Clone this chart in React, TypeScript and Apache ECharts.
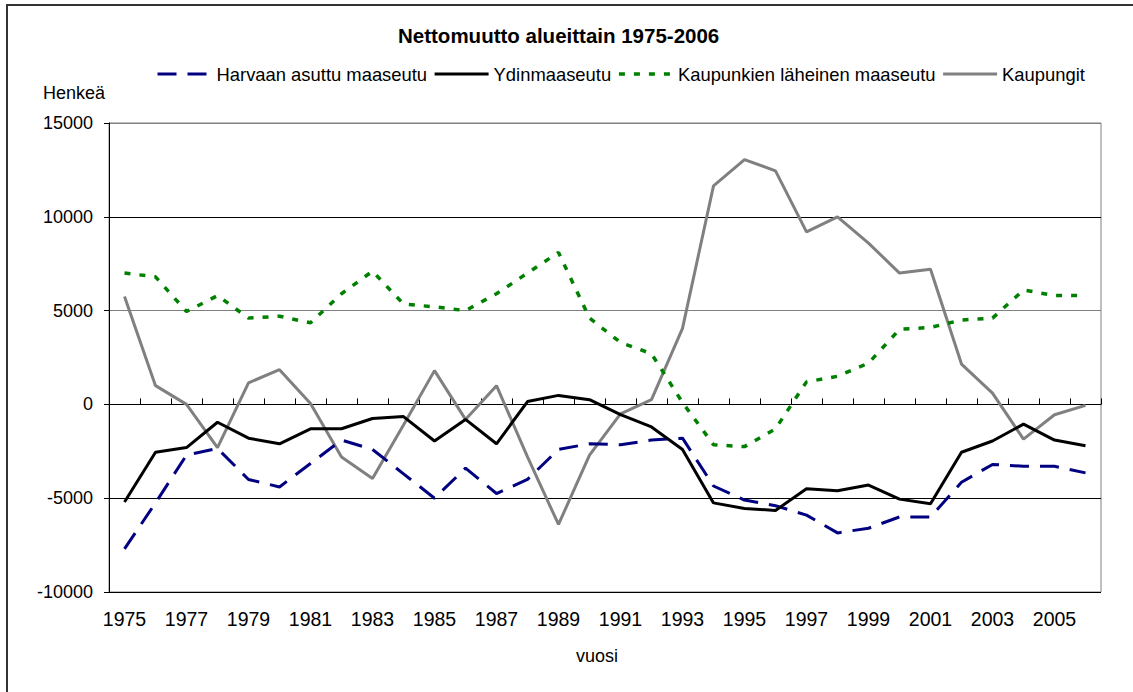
import React, { useEffect, useRef } from "react";
import * as echarts from "echarts";

const years = [
  "1975","1976","1977","1978","1979","1980","1981","1982","1983","1984","1985",
  "1986","1987","1988","1989","1990","1991","1992","1993","1994","1995","1996",
  "1997","1998","1999","2000","2001","2002","2003","2004","2005","2006",
];

const harvaan = [
  -7700, -5250, -2700, -2350, -4000, -4400, -3150, -1900, -2400, -3700, -5000,
  -3400, -4750, -4000, -2400, -2100, -2150, -1900, -1800, -4350, -5100, -5400,
  -5900, -6850, -6600, -6000, -6000, -4150, -3200, -3300, -3300, -3650,
];

const ydin = [
  -5200, -2550, -2300, -950, -1800, -2100, -1300, -1300, -750, -650, -1950,
  -800, -2100, 150, 480, 250, -550, -1200, -2400, -5250, -5550, -5650,
  -4500, -4600, -4300, -5050, -5300, -2550, -1950, -1050, -1900, -2200,
];

const kaupunkienLaheinen = [
  7000, 6800, 4950, 5800, 4600, 4700, 4350, 5900, 7100, 5350, 5200,
  5000, 5900, 7000, 8100, 4600, 3300, 2700, 100, -2150, -2250, -1300,
  1200, 1500, 2200, 4000, 4100, 4500, 4600, 6100, 5800, 5800,
];

const kaupungit = [
  5750, 1000, 0, -2300, 1150, 1850, 50, -2800, -3950, -1100, 1800,
  -800, 1000, -2800, -6400, -2700, -500, 250, 4050, 11650, 13050, 12450,
  9200, 10000, 8600, 7000, 7200, 2150, 600, -1850, -550, -50,
];

const seriesNames = [
  "Harvaan asuttu maaseutu",
  "Ydinmaaseutu",
  "Kaupunkien läheinen maaseutu",
  "Kaupungit",
];

const FONT = "'Liberation Sans', Arial, sans-serif";

const styles = [
  { color: "#000080", width: 3, type: [19, 11] as any },
  { color: "#000000", width: 3, type: "solid" as any },
  { color: "#008000", width: 3.5, type: [6, 9] as any },
  { color: "#808080", width: 3, type: "solid" as any },
];

export default function App() {
  const ref = useRef<HTMLDivElement>(null);

  useEffect(() => {
    document.body.style.margin = "0";
    if (!ref.current) return;
    const chart = echarts.init(ref.current, null, { renderer: "svg" });
    const dataSets = [harvaan, ydin, kaupunkienLaheinen, kaupungit];
    chart.setOption({
      animation: false,
      backgroundColor: "#ffffff",
      textStyle: { fontFamily: FONT },
      title: {
        text: "Nettomuutto alueittain 1975-2006",
        left: 398,
        top: 25,
        padding: 0,
        textStyle: { fontFamily: FONT, fontSize: 20.5, fontWeight: "bold", color: "#000" },
      },
      legend: {
        left: 156,
        top: 65,
        padding: 0,
        itemWidth: 54,
        itemHeight: 14,
        itemGap: 6,
        itemStyle: { opacity: 0 },
        data: seriesNames.map((n, i) => ({
          name: n,
          lineStyle: { color: styles[i].color, width: styles[i].width, type: styles[i].type },
        })),
        textStyle: { fontFamily: FONT, fontSize: 18.4, color: "#000" },
      },
      graphic: [
        {
          type: "rect",
          shape: { x: 7, y: 5, width: 1300, height: 900 },
          style: { fill: "none", stroke: "#333", lineWidth: 2 },
          silent: true,
          z: 0,
        },
        {
          type: "text",
          x: 43,
          y: 93,
          style: {
            text: "Henkeä",
            fontFamily: FONT,
            fontSize: 18,
            fill: "#000",
            textAlign: "left",
            textVerticalAlign: "middle",
          },
        },
        {
          type: "text",
          x: 597,
          y: 656,
          style: {
            text: "vuosi",
            fontFamily: FONT,
            fontSize: 18,
            fill: "#000",
            textAlign: "center",
            textVerticalAlign: "middle",
          },
        },
      ],
      grid: {
        left: 109,
        top: 123,
        width: 992,
        height: 469,
        show: true,
        borderColor: "#808080",
        borderWidth: 1,
        containLabel: false,
      },
      xAxis: {
        type: "category",
        data: years,
        boundaryGap: true,
        axisLine: { show: true, lineStyle: { color: "#000", width: 1 } },
        axisTick: { show: true, inside: true, length: 6, interval: 0, lineStyle: { color: "#000" } },
        axisLabel: {
          interval: 1,
          margin: 17,
          fontFamily: FONT,
          fontSize: 19.5,
          color: "#000",
        },
        splitLine: { show: false },
      },
      yAxis: {
        type: "value",
        min: -10000,
        max: 15000,
        interval: 5000,
        axisLine: { show: true, lineStyle: { color: "#000", width: 1 } },
        axisTick: { show: true, inside: false, length: 5, lineStyle: { color: "#000" } },
        axisLabel: {
          margin: 16,
          fontFamily: FONT,
          fontSize: 18,
          color: "#000",
          formatter: (v: number) => String(v),
        },
        splitLine: {
          show: true,
          lineStyle: {
            color: ["#000", "#000", "#808080", "#808080", "#000", "#808080"],
            width: 1,
          },
        },
      },
      series: seriesNames.map((n, i) => ({
        name: n,
        type: "line",
        data: dataSets[i],
        symbol: "none",
        showSymbol: false,
        lineStyle: { color: styles[i].color, width: styles[i].width, type: styles[i].type },
        itemStyle: { color: styles[i].color },
        z: [3, 4, 2, 1][i],
      })),
    });
    return () => chart.dispose();
  }, []);

  return <div ref={ref} style={{ width: 1133, height: 692 }} />;
}
